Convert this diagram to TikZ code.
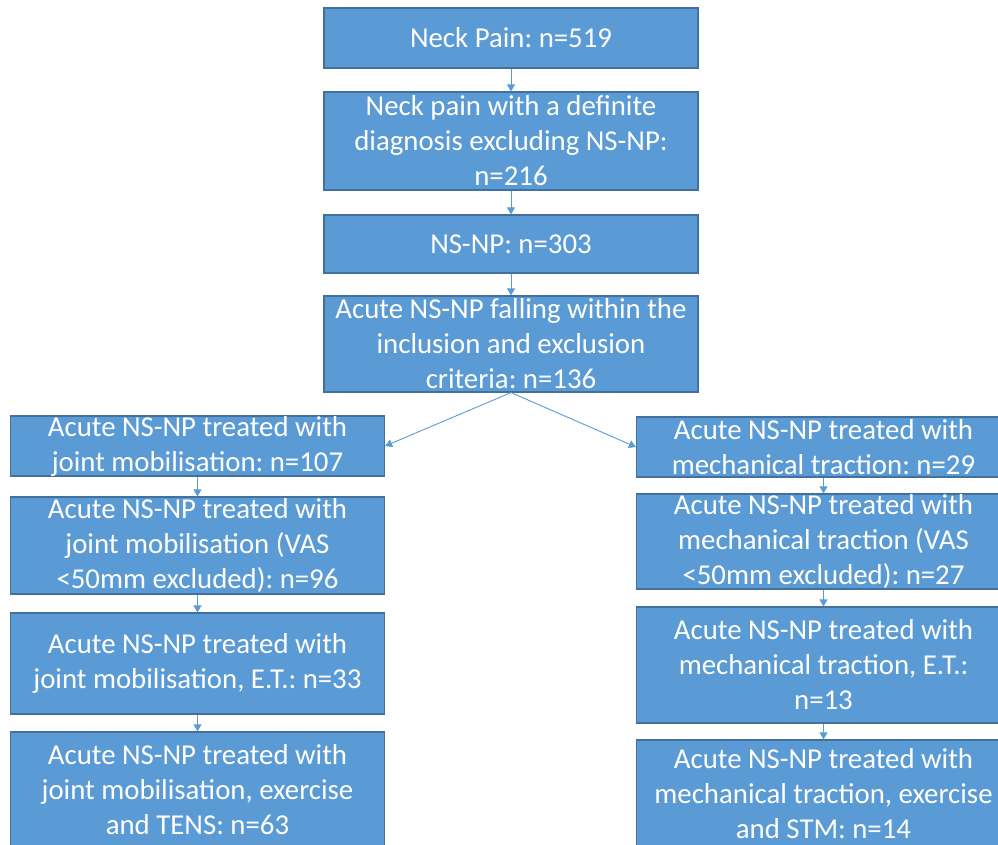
\documentclass[tikz,border=0pt]{standalone}
\usepackage{fontspec}
\setmainfont{Carlito}
\usetikzlibrary{arrows.meta}
\definecolor{boxblue}{HTML}{5B9BD5}
\definecolor{edgeblue}{HTML}{41719C}
\frenchspacing
\begin{document}
\begin{tikzpicture}[x=1pt, y=-1pt,
  stage/.style={draw=edgeblue, line width=1.2pt, fill=boxblue, text=white, align=center,
    minimum width=374pt, inner sep=0pt, font=\fontsize{28.8}{35}\selectfont},
  link/.style={-{Triangle[length=7pt, width=8pt]}, boxblue, line width=0.9pt}]
\useasboundingbox (0,0) rectangle (998,845);
% top column
\node[stage, minimum height=60pt] (pain) at (511,38) {Neck Pain: n=519};
\node[stage, minimum height=98pt] (definite) at (511,141) {Neck pain with a definite\\diagnosis excluding NS-NP:\\n=216};
\node[stage, minimum height=58pt] (nsnp) at (511,244) {NS-NP: n=303};
\node[stage, minimum height=96pt] (acute) at (511,344) {Acute NS-NP falling within the\\inclusion and exclusion\\criteria: n=136};
% left branch
\node[stage, minimum height=60pt] (mob1) at (197.5,446) {Acute NS-NP treated with\\joint mobilisation: n=107};
\node[stage, minimum height=97pt] (mob2) at (197.5,545.5) {Acute NS-NP treated with\\joint mobilisation (VAS\\<50mm excluded): n=96};
\node[stage, minimum height=101pt] (mob3) at (197.5,663.5) {Acute NS-NP treated with\\joint mobilisation, E.T.: n=33};
\node[stage, minimum height=116pt] (mob4) at (197.5,790) {Acute NS-NP treated with\\joint mobilisation, exercise\\and TENS: n=63};
% right branch
\node[stage, minimum height=60pt] (trac1) at (823.5,447) {Acute NS-NP treated with\\mechanical traction: n=29};
\node[stage, minimum height=95pt] (trac2) at (823.5,541.5) {Acute NS-NP treated with\\mechanical traction (VAS\\<50mm excluded): n=27};
\node[stage, minimum height=116pt] (trac3) at (823.5,665) {Acute NS-NP treated with\\mechanical traction, E.T.:\\n=13};
\node[stage, minimum height=108pt] (trac4) at (823.5,794) {Acute NS-NP treated with\\mechanical traction, exercise\\and STM: n=14};
% connectors
\draw[link] (pain) -- (definite);
\draw[link] (definite) -- (nsnp);
\draw[link] (nsnp) -- (acute);
\draw[link] (acute.south) -- (mob1.east);
\draw[link] (acute.south) -- (trac1.west);
\draw[link] (mob1) -- (mob2);
\draw[link] (mob2) -- (mob3);
\draw[link] (mob3) -- (mob4);
\draw[link] (trac1) -- (trac2);
\draw[link] (trac2) -- (trac3);
\draw[link] (trac3) -- (trac4);
\end{tikzpicture}
\end{document}
